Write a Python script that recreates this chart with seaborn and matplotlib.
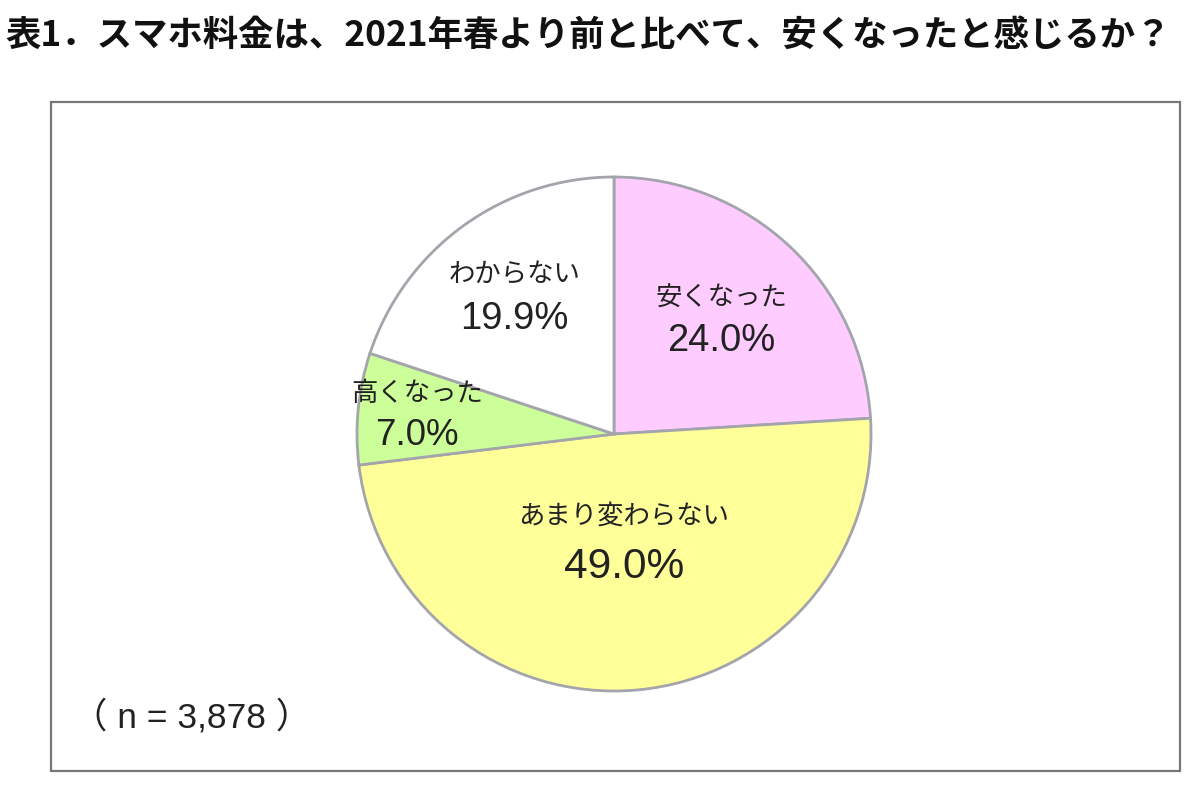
import numpy as np
import matplotlib
matplotlib.use("Agg")
import matplotlib.pyplot as plt
import seaborn as sns
from matplotlib.patches import Rectangle

sns.set_theme(style="white")
plt.rcParams['font.family'] = ['Noto Sans CJK JP', 'DejaVu Sans']

# Data
categories = ["安くなった", "あまり変わらない", "高くなった", "わからない"]
values = [24.0, 49.0, 7.0, 19.9]
pct_labels = ["24.0%", "49.0%", "7.0%", "19.9%"]
colors = ["#FFCCFF", "#FFFF99", "#CCFF99", "#FFFFFF"]
title = "表1．スマホ料金は、2021年春より前と比べて、安くなったと感じるか？"
note = "（ n = 3,878 ）"

# Style parameters
label_dist = [0.61, 0.42, 0.77, 0.66]
line_off = [0.082, 0.098, 0.082, 0.086]
pct_size = [27.5, 30.5, 26.5, 27.5]

W, H = 1200, 797
fig = plt.figure(figsize=(W / 100, H / 100), dpi=100)
fig.patch.set_facecolor("white")

# frame
frame = Rectangle((51 / W, 1 - 771 / H), (1180 - 51) / W, (771 - 102) / H,
                  transform=fig.transFigure, fill=False, edgecolor="#777777",
                  linewidth=1.6, zorder=0)
fig.patches.append(frame)

fig.text(5 / W, 1 - 35 / H, title, fontsize=25.5, fontweight="bold",
         ha="left", va="center", color="#111111")

cx, cy, r = 614, 434, 257
pad = 1.02
ax = fig.add_axes([(cx - r * pad) / W, (H - cy - r * pad) / H, 2 * r * pad / W, 2 * r * pad / H])
wedges, _ = ax.pie(values, colors=colors, startangle=90, counterclock=False,
                   wedgeprops=dict(edgecolor="#A4A4AC", linewidth=2.0))
ax.set_xlim(-pad, pad)
ax.set_ylim(-pad, pad)
ax.set_aspect("equal")
ax.axis("off")

for w, cat, pct, d, off, ps in zip(wedges, categories, pct_labels, label_dist, line_off, pct_size):
    ang = np.deg2rad((w.theta1 + w.theta2) / 2)
    x, y = d * np.cos(ang), d * np.sin(ang)
    ax.text(x, y + off, cat, ha="center", va="center", fontsize=19, color="#222222")
    ax.text(x, y - off, pct, ha="center", va="center", fontsize=ps, color="#222222",
            family=['Liberation Sans', 'Noto Sans CJK JP'])

fig.text(192 / W, 1 - 717 / H, note, fontsize=25.5, ha="center", va="center",
         color="#222222", family=['Liberation Sans', 'Noto Sans CJK JP'])

fig.savefig("out.png", dpi=100, facecolor="white")
